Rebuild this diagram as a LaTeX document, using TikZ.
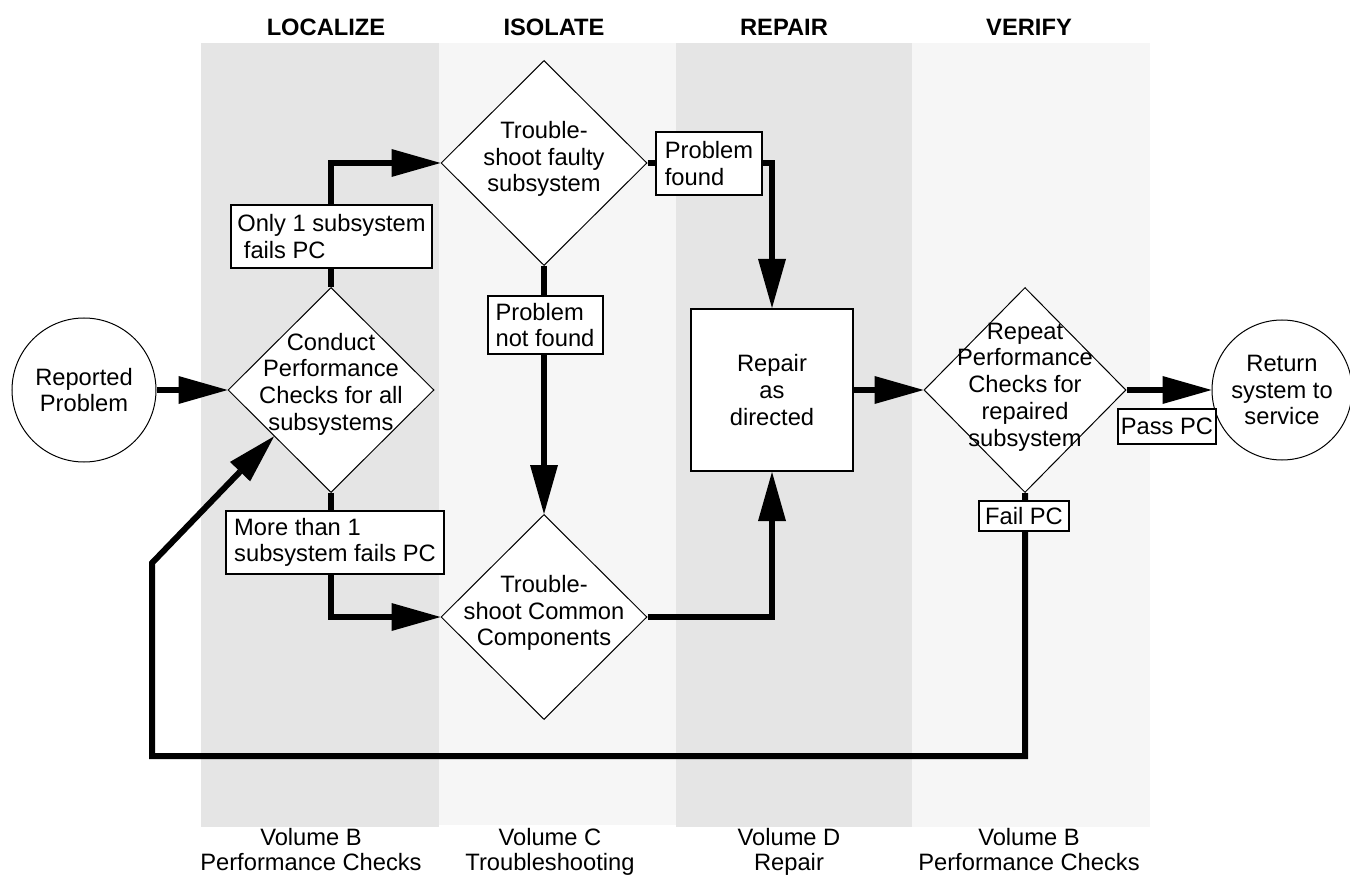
\documentclass[tikz,border=0pt]{standalone}
\usepackage{fontspec}
\setmainfont{Liberation Sans}
\usetikzlibrary{shapes.geometric,arrows.meta,calc}
\definecolor{bandDark}{RGB}{229,229,229}
\definecolor{bandLight}{RGB}{246,246,246}
\begin{document}
\begin{tikzpicture}[x=1pt,y=-1pt,
  every node/.style={font=\fontsize{23.7}{26.7}\selectfont},
  decision/.style={diamond, draw, fill=white, line width=1pt,
    minimum width=206pt, minimum height=205pt, inner sep=0pt},
  terminal/.style={circle, draw, fill=white, line width=1pt,
    minimum size=144pt, inner sep=0pt, align=center},
  process/.style={rectangle, draw, fill=white, line width=2pt,
    minimum width=162pt, minimum height=162pt, inner sep=0pt, align=center},
  shapetext/.style={align=center, inner sep=0pt},
  tag/.style={rectangle, draw, fill=white, line width=2pt, inner sep=0pt, align=left},
  flow/.style={line width=6pt, -{Triangle[length=49pt,width=28pt,line width=0pt]}},
  heading/.style={font=\fontsize{23.7}{26.7}\selectfont\bfseries, anchor=base, inner sep=0pt},
  volume/.style={font=\fontsize{23.7}{24.5}\selectfont, align=center, anchor=north, inner sep=0pt}
]
\useasboundingbox (0,0) rectangle (1350,877);

% phase bands
\fill[bandDark]  (201,43) rectangle (439,827);
\fill[bandLight] (439,43) rectangle (676,825);
\fill[bandDark]  (676,43) rectangle (912,827);
\fill[bandLight] (912,43) rectangle (1150,827);

% phase headings
\node[heading] (hLoc) at (326,36) {LOCALIZE};
\node[heading] (hIso) at (554,36) {ISOLATE};
\node[heading] (hRep) at (784,36) {REPAIR};
\node[heading] (hVer) at (1029,36) {VERIFY};

% flow shapes
\node[terminal] (rep) at (84,390) {Reported\\Problem};
\node[decision] (cond) at (331,390) {};
\node[shapetext] (condT) at (331,384) {Conduct\\Performance\\Checks for all\\subsystems};
\node[decision] (fault) at (544,163) {};
\node[shapetext] (faultT) at (544,159) {Trouble-\\shoot faulty\\subsystem};
\node[decision] (common) at (544,617) {};
\node[shapetext] (commonT) at (544,613) {Trouble-\\shoot Common\\Components};
\node[process] (repair) at (772,390) {Repair\\as\\directed};
\node[decision, minimum width=202pt] (verify) at (1025,390) {};
\node[shapetext] (verifyT) at (1025,387) {Repeat\\Performance\\Checks for\\repaired\\subsystem};
\node[terminal, minimum size=140pt] (ret) at (1282,390) {Return\\system to\\service};

% connectors
\draw[flow] (rep.east) -- (cond.west);
\draw[flow] (cond.north) |- (fault.west);
\draw[flow] (cond.south) |- (common.west);
\draw[flow] (fault.south) -- (common.north);
\draw[flow] (fault.east) -| (repair.north);
\draw[flow] (common.east) -| (repair.south);
\draw[flow] (repair.east) -- (verify.west);
\draw[flow] (verify.east) -- (ret.west);
\coordinate (loopL) at (152,756);
\coordinate (loopK) at (152,563);
\draw[flow] (verify.south) |- (loopL) -- (loopK) -- ($(cond.west)!0.45!(cond.south)$);

% branch labels
\node[tag, minimum width=201pt, minimum height=63pt] (only1) at (331.5,236.5) {Only 1 subsystem\\\ fails PC};
\node[tag, minimum width=218pt, minimum height=63pt] (more1) at (335,542.5) {More than 1\\subsystem fails PC};
\node[tag, minimum width=106pt, minimum height=63pt] (pfound) at (709,163.5) {Problem\\found};
\node[tag, minimum width=115pt, minimum height=58pt] (pnf) at (545,325) {Problem\\not found};
\node[tag, minimum width=98pt, minimum height=35pt] (pass) at (1167,426.5) {Pass PC};
\node[tag, minimum width=90pt, minimum height=30pt] (fail) at (1024,516) {Fail PC};

% reference volumes
\node[volume] (vol1) at (311,828.5) {Volume B\\Performance Checks};
\node[volume] (vol2) at (550,828.5) {Volume C\\Troubleshooting};
\node[volume] (vol3) at (789,828.5) {Volume D\\Repair};
\node[volume] (vol4) at (1029,828.5) {Volume B\\Performance Checks};
\end{tikzpicture}
\end{document}
